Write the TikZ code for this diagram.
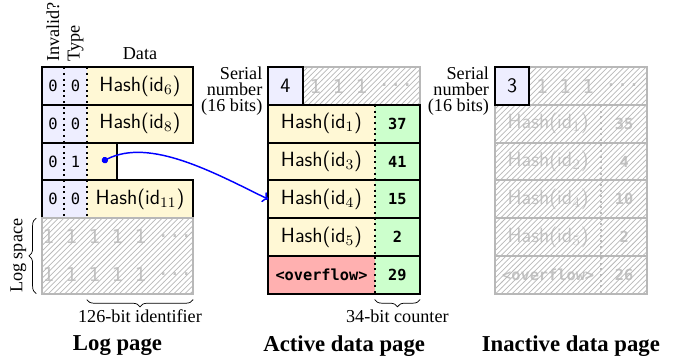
\documentclass[tikz,border=0pt]{standalone}
\usepackage{fontspec}
\setmainfont{Liberation Serif}
\setmonofont{DejaVu Sans Mono}
\usetikzlibrary{positioning,arrows.meta,patterns,decorations.pathreplacing}
\definecolor{flagblue}{HTML}{EEEEFF}
\definecolor{hashyellow}{HTML}{FFF8D5}
\definecolor{countgreen}{HTML}{CCFFCC}
\definecolor{overred}{HTML}{FFB0B0}
\definecolor{fadetext}{HTML}{C4C4C4}
\definecolor{fadeline}{HTML}{B8B8B8}
\newcommand{\hashtxt}[1]{\fontsize{11.3}{13}\sffamily Hash(id$_{#1}$)}
\newcommand{\cnt}[1]{\fontsize{8.4}{10}\ttfamily\bfseries #1}
\newcommand{\ovf}{\fontsize{8.4}{10}\ttfamily\bfseries <overflow>}
\newcommand{\fadedots}{\raisebox{.33em}{...}}

\begin{document}
\begin{tikzpicture}[x=0.55pt, y=-0.55pt,
    every node/.style={inner sep=0pt, outer sep=0pt},
    flagcell/.style={fill=flagblue, minimum width=12.4pt, minimum height=20.74pt, font=\fontsize{8.5}{10}\ttfamily},
    hashcell/.style={fill=hashyellow, minimum width=58.5pt, minimum height=20.74pt},
    countcell/.style={fill=countgreen, minimum width=25pt, minimum height=20.74pt},
    fadecell/.style={minimum height=20.74pt, text=fadetext},
    serialbox/.style={fill=flagblue, minimum width=18.9pt, minimum height=20.74pt, font=\fontsize{11.3}{13}\sffamily},
    seriallbl/.style={align=right, font=\fontsize{10}{8.7}\selectfont},
    rowbox/.style={line width=1.1pt, black},
    fadebox/.style={line width=1.1pt, fadeline},
    divider/.style={line width=1.1pt, dotted},
    hatch/.style={pattern=north east lines, pattern color=fadeline},
    brace/.style={decorate, decoration={brace, mirror, amplitude=4pt}, thin},
    pagetitle/.style={font=\fontsize{12.5}{15}\selectfont\bfseries}]
    \useasboundingbox (0,0) rectangle (680,364);

    % Log page
    \node[flagcell, anchor=north west] (inv1) at (41.7,67.3) {0};
    \node[flagcell, right=0pt of inv1] (typ1) {0};
    \node[hashcell, right=0pt of typ1] (dat1) {\hashtxt{6}};
    \node[flagcell, below=0pt of inv1] (inv2) {0};
    \node[flagcell, right=0pt of inv2] (typ2) {0};
    \node[hashcell, right=0pt of typ2] (dat2) {\hashtxt{8}};
    \node[flagcell, below=0pt of inv2] (inv3) {0};
    \node[flagcell, right=0pt of inv3] (typ3) {1};
    \node[hashcell, minimum width=16.8pt, right=0pt of typ3] (dat3) {};
    \coordinate (ptr) at (dat3.center);
    \node[flagcell, below=0pt of inv3] (inv4) {0};
    \node[flagcell, right=0pt of inv4] (typ4) {0};
    \node[hashcell, right=0pt of typ4] (dat4) {\hashtxt{11}};

    \draw[divider] (inv1.north east) -- (inv4.south east);
    \draw[divider] (typ1.north east) -- (typ4.south east);
    \foreach \r in {1,2,3,4}
        \draw[rowbox] (inv\r.north west) rectangle (dat\r.south east);

    \node[rotate=90, anchor=west] (invlbl) at ([yshift=3pt]inv1.north) {Invalid?};
    \node[rotate=90, anchor=west] (typlbl) at ([yshift=3pt]typ1.north) {Type};
    \node[above=4pt of dat1] (datlbl) {Data};

    % Log space
    \node[fadecell, anchor=north west, minimum width=83.3pt, minimum height=41.5pt,
        align=center, font=\fontsize{10.5}{20.9}\ttfamily] (logfree) at (inv4.south west)
        {1 1 1 1 1 \fadedots\\1 1 1 1 1 \fadedots};
    \fill[hatch] (logfree.north west) rectangle (logfree.south east);
    \draw[fadebox] (logfree.north west) rectangle (logfree.south east);

    \draw[decorate, decoration={brace, amplitude=4pt}, thin]
        ([xshift=-3pt]logfree.south west) -- ([xshift=-3pt]logfree.north west);
    \node[rotate=90, anchor=south] (spacelbl) at ([xshift=-8.5pt]logfree.west) {Log space};

    \coordinate (idleft) at (dat4.west |- logfree.south);
    \draw[brace] ([yshift=-3.3pt]idleft) -- ([yshift=-3.3pt]logfree.south east)
        node[midway, below=5.8pt] (idlbl) {126-bit identifier};
    \node[pagetitle] (logtitle) at (117.5,346) {Log page};

    % Active data page
    \node[serialbox, anchor=north west] (ser4) at (268.3,67.3) {4};
    \node[fadecell, anchor=north west, minimum width=64.6pt, font=\fontsize{10.5}{13}\ttfamily]
        (hdr4) at (ser4.north east) {1 1 1 \fadedots};
    \fill[hatch] (hdr4.north west) rectangle (hdr4.south east);
    \draw[fadebox] (hdr4.north west) rectangle (hdr4.south east);
    \draw[rowbox] (ser4.north west) rectangle (ser4.south east);
    \node[seriallbl, anchor=north east] (serlbl4) at ([xshift=-3.3pt]ser4.north west) {Serial\\number\\(16 bits)};

    \node[hashcell, anchor=north west] (act1) at (ser4.south west) {\hashtxt{1}};
    \node[countcell, right=0pt of act1] (cnt1) {\cnt{37}};
    \foreach \p/\r/\id/\c in {1/2/3/41, 2/3/4/15, 3/4/5/2} {
        \node[hashcell, below=0pt of act\p] (act\r) {\hashtxt{\id}};
        \node[countcell, right=0pt of act\r] (cnt\r) {\cnt{\c}};
    }
    \node[hashcell, fill=overred, below=0pt of act4] (act5) {\ovf};
    \node[countcell, right=0pt of act5] (cnt5) {\cnt{29}};

    \draw[divider] (act1.north east) -- (act5.south east);
    \foreach \r in {1,...,5}
        \draw[rowbox] (act\r.north west) rectangle (cnt\r.south east);

    \draw[brace] ([yshift=-3.3pt]cnt5.south west) -- ([yshift=-3.3pt]cnt5.south east)
        node[midway, below=5.8pt] (cntlbl) {34-bit counter};
    \node[pagetitle] (acttitle) at (344.2,346) {Active data page};

    % Pointer
    \draw[blue, thick, {Circle[length=3.5pt]}-{To[length=3pt, width=6pt]}]
        (ptr) .. controls +(48,-24) and +(-55,-27) .. (act3.west);

    % Inactive data page
    \node[serialbox, anchor=north west] (ser3) at (495,67.3) {3};
    \node[fadecell, anchor=north west, minimum width=64.6pt, font=\fontsize{10.5}{13}\ttfamily]
        (hdr3) at (ser3.north east) {1 1 1 \fadedots};
    \node[seriallbl, anchor=north east] (serlbl3) at ([xshift=-3.3pt]ser3.north west) {Serial\\number\\(16 bits)};

    \node[fadecell, minimum width=58.5pt, anchor=north west] (old1) at (ser3.south west) {\hashtxt{1}};
    \node[fadecell, minimum width=25pt, right=0pt of old1] (oldc1) {\cnt{35}};
    \foreach \p/\r/\id/\c in {1/2/2/4, 2/3/4/10, 3/4/5/2} {
        \node[fadecell, minimum width=58.5pt, below=0pt of old\p] (old\r) {\hashtxt{\id}};
        \node[fadecell, minimum width=25pt, right=0pt of old\r] (oldc\r) {\cnt{\c}};
    }
    \node[fadecell, minimum width=58.5pt, below=0pt of old4] (old5) {\ovf};
    \node[fadecell, minimum width=25pt, right=0pt of old5] (oldc5) {\cnt{26}};

    \fill[hatch] (hdr3.north west) rectangle (hdr3.south east);
    \fill[hatch] (old1.north west) rectangle (oldc5.south east);
    \draw[divider, fadeline] (old1.north east) -- (old5.south east);
    \draw[fadebox] (hdr3.north west) rectangle (hdr3.south east);
    \foreach \r in {1,...,5}
        \draw[fadebox] (old\r.north west) rectangle (oldc\r.south east);
    \draw[rowbox] (ser3.north west) rectangle (ser3.south east);
    \node[pagetitle] (oldtitle) at (570.9,346) {Inactive data page};
\end{tikzpicture}
\end{document}
